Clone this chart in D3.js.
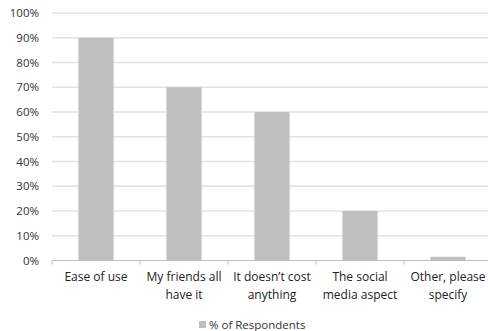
<!DOCTYPE html>
<html>
<head>
<meta charset="utf-8">
<script src="https://cdn.jsdelivr.net/npm/d3@7"></script>
<style>
  body { margin: 0; background: #fff; }
  svg { display: block; font-family: "Open Sans", "Noto Sans", sans-serif; }
</style>
</head>
<body>
<svg id="chart" width="488" height="331"></svg>
<script>
// ── Data ─────────────────────────────────────────────────────────
const categories = [
  ['Ease of use'],
  ['My friends all', 'have it'],
  ['It doesn\u2019t cost', 'anything'],
  ['The social', 'media aspect'],
  ['Other, please', 'specify'],
];
const values = [90, 70, 60, 20, 1.5];
const yTicks = [0, 10, 20, 30, 40, 50, 60, 70, 80, 90, 100];
const seriesName = '% of Respondents';

// ── Layout ───────────────────────────────────────────────────────
const svg = d3.select('#chart');
const plotLeft = 52, plotRight = 492, plotTop = 13, plotBottom = 260.5;

const x = d3.scaleBand()
  .domain(d3.range(categories.length))
  .range([plotLeft, plotRight])
  .paddingInner(0.6)
  .paddingOuter(0.3);

const y = d3.scaleLinear().domain([0, 100]).range([plotBottom, plotTop]);

// gridlines
svg.append('g')
  .selectAll('line')
  .data(yTicks.filter(t => t > 0))
  .join('line')
  .attr('x1', plotLeft).attr('x2', 488)
  .attr('y1', d => y(d)).attr('y2', d => y(d))
  .attr('stroke', '#e3e3e3')
  .attr('stroke-width', 1.5);

// y labels
svg.append('g')
  .selectAll('text')
  .data(yTicks)
  .join('text')
  .attr('x', 39)
  .attr('y', d => y(d))
  .attr('dy', '0.35em')
  .attr('text-anchor', 'end')
  .attr('font-size', '11.5px')
  .attr('fill', '#333')
  .text(d => d + '%');

// bars
svg.append('g')
  .selectAll('rect')
  .data(values)
  .join('rect')
  .attr('x', (d, i) => x(i))
  .attr('width', x.bandwidth())
  .attr('y', d => y(d))
  .attr('height', d => plotBottom - y(d))
  .attr('fill', '#bfbfbf');

// x axis line + ticks
const axis = svg.append('g').attr('stroke', '#bfbfbf').attr('stroke-width', 1);
axis.append('line')
  .attr('x1', plotLeft).attr('x2', 488)
  .attr('y1', plotBottom).attr('y2', plotBottom);
axis.selectAll('line.tick')
  .data(d3.range(categories.length + 1))
  .join('line')
  .attr('class', 'tick')
  .attr('x1', i => plotLeft + i * x.step())
  .attr('x2', i => plotLeft + i * x.step())
  .attr('y1', plotBottom).attr('y2', plotBottom + 4);

// category labels
const labels = svg.append('g')
  .selectAll('text')
  .data(categories)
  .join('text')
  .attr('x', (d, i) => x(i) + x.bandwidth() / 2)
  .attr('y', 281)
  .attr('text-anchor', 'middle')
  .attr('font-size', '12px')
  .attr('fill', '#222');
labels.selectAll('tspan')
  .data(d => d)
  .join('tspan')
  .attr('x', function() { return this.parentNode.getAttribute('x'); })
  .attr('dy', (d, i) => i === 0 ? 0 : 17.5)
  .text(d => d);

// legend
const legend = svg.append('g').attr('transform', 'translate(199, 325)');
legend.append('rect')
  .attr('x', 0).attr('y', -4)
  .attr('width', 7).attr('height', 7)
  .attr('fill', '#bfbfbf');
legend.append('text')
  .attr('x', 10)
  .attr('dy', '0.35em')
  .attr('font-size', '11.5px')
  .attr('fill', '#333')
  .text(seriesName);
</script>
</body>
</html>
